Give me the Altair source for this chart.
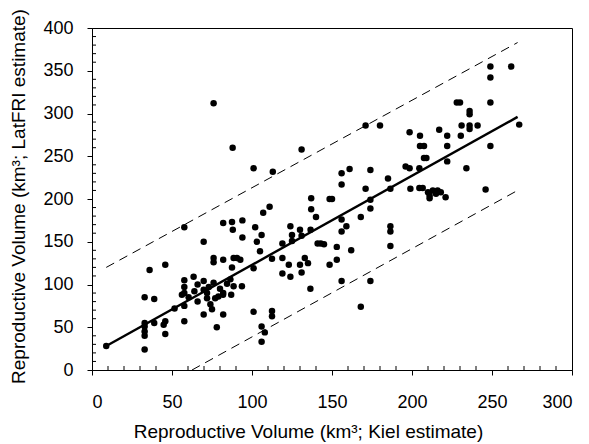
import altair as alt
import pandas as pd

# Scatter data (Kiel estimate vs LatFRI estimate, km^3)
kiel = [8.9, 32.9, 32.9, 32.9, 32.9, 32.9, 32.9, 36, 38.9, 38.9, 45.8, 45.8, 44.8, 45.8, 51.6,
        57.7, 57.7, 57.7, 57.7, 56.2, 57.7, 57.7, 63.5, 60.4, 69.8, 69.8, 69.8, 69.8, 71.9, 71.9,
        74, 76, 76, 76, 75, 77, 78, 76, 82, 82, 82, 82, 84.4, 87.5, 88, 88.5, 90.6, 92.7, 87.5,
        86.5, 88.5, 93.7, 94, 94, 87.9, 87, 81.9, 101, 101, 102, 103, 105, 107, 111, 106, 106,
        108, 106, 112.5, 112.5, 112.5, 101, 113, 119, 119, 119, 124, 123, 124, 125, 125, 130,
        131, 130, 133, 135, 136.5, 137, 137, 140, 141, 143, 145, 148.5, 148.5, 131, 131, 136.6,
        150, 153, 153, 156, 161, 156, 156, 159, 156, 156, 162, 168, 168, 171, 180, 174, 171,
        174, 174, 174, 185, 186.5, 186.5, 186.5, 186.5, 196, 198.5, 198.5, 205, 205, 207.5, 209,
        207.5, 204.6, 199, 204.6, 206.7, 210, 213, 216, 218, 211, 215, 211, 221, 217, 222, 222,
        222, 228, 230, 236, 236, 231, 236, 236, 241, 230.5, 234, 246, 249, 262, 249, 249, 249,
        267, 66, 64, 66, 79, 80, 73]
latfri = [28, 24, 40, 45, 51, 55, 85, 117, 83, 55, 123, 57, 53, 42, 72,
          167, 105, 97, 90, 88, 75, 57, 109, 85, 150, 104, 94, 65, 90, 84,
          77, 131, 126, 102, 71, 84, 50, 312, 172, 129, 90, 65, 101, 173, 164, 131, 131, 129, 120,
          106, 98, 98, 175, 155, 260, 88, 88, 119, 68, 167, 150, 139, 184, 191, 158, 51,
          44, 33, 130, 69, 63, 236, 232, 148, 131, 113, 109, 123, 168, 158, 151, 164,
          157, 123, 131, 125, 95, 201, 188, 179, 148, 148, 147, 123, 200, 258, 114, 164,
          200, 144, 129, 230, 235, 217, 176, 168, 162, 104, 140, 179, 74, 286, 286, 234, 212,
          199, 189, 104, 224, 212, 168, 162, 145, 238, 236, 278, 274, 262, 262, 248,
          248, 236, 212, 213, 213, 208, 210, 210, 208, 204, 206, 201, 202, 281, 274, 262,
          244, 313, 313, 303, 299, 286, 286, 282, 286, 274, 236, 211, 355, 355, 342, 313, 262,
          287, 100, 92, 80, 86, 95, 97]

# Regression line and prediction bounds (end points)
fit_x = [8.9, 266]
fit_y = [28, 296]
upper_x = [8.9, 266]
upper_y = [120, 383]
lower_x = [62.5, 265]
lower_y = [0, 209]

x_major = [0, 50, 100, 150, 200, 250, 300]
y_major = [0, 50, 100, 150, 200, 250, 300, 350, 400]
x_minor = [v for v in range(0, 301, 10) if v % 50]
y_minor = [v for v in range(0, 401, 10) if v % 50]

W, H = 480, 342
FONT = "Liberation Sans"

xs = alt.Scale(domain=[0, 300], nice=False, zero=False)
ys = alt.Scale(domain=[0, 400], nice=False, zero=False)

pts = pd.DataFrame({"kiel": kiel, "latfri": latfri})

points = alt.Chart(pts).mark_circle(size=42, color="black", opacity=1).encode(
    x=alt.X("kiel:Q", scale=xs, axis=alt.Axis(
        values=x_major, title="Reproductive Volume (km³; Kiel estimate)",
        grid=False, tickSize=5, labelPadding=18, titlePadding=11,
        titleX=216, titleFontSize=19)),
    y=alt.Y("latfri:Q", scale=ys, axis=alt.Axis(
        values=y_major, title="Reproductive Volume (km³; LatFRI estimate)",
        grid=False, tickSize=5, labelPadding=14, titlePadding=14,
        titleY=168, titleFontSize=19)),
)

fit = alt.Chart(pd.DataFrame({"x": fit_x, "y": fit_y})).mark_line(
    color="black", strokeWidth=2.4).encode(
    x=alt.X("x:Q", scale=xs), y=alt.Y("y:Q", scale=ys))

upper = alt.Chart(pd.DataFrame({"x": upper_x, "y": upper_y})).mark_line(
    color="black", strokeWidth=1, strokeDash=[9, 6]).encode(
    x=alt.X("x:Q", scale=xs), y=alt.Y("y:Q", scale=ys))

lower = alt.Chart(pd.DataFrame({"x": lower_x, "y": lower_y})).mark_line(
    color="black", strokeWidth=1, strokeDash=[9, 6]).encode(
    x=alt.X("x:Q", scale=xs), y=alt.Y("y:Q", scale=ys))

xminor = alt.Chart(pd.DataFrame({"v": x_minor})).mark_rule(color="black", strokeWidth=1).encode(
    x=alt.X("v:Q", scale=xs), y=alt.value(H), y2=alt.value(H - 4))

yminor = alt.Chart(pd.DataFrame({"v": y_minor})).mark_rule(color="black", strokeWidth=1).encode(
    y=alt.Y("v:Q", scale=ys), x=alt.value(0), x2=alt.value(4))

chart = alt.layer(upper, lower, fit, points, xminor, yminor).properties(
    width=W, height=H,
    autosize=alt.AutoSizeParams(type="none"),
    padding={"left": 92, "top": 28, "right": 17, "bottom": 74},
    background="white",
).configure_view(
    stroke="black", strokeWidth=1
).configure_axis(
    domainColor="black", tickColor="black", labelColor="black", titleColor="black",
    labelFont=FONT, titleFont=FONT, labelFontSize=18,
    titleFontWeight="normal",
)

chart.save("out.html", embed_options={"renderer": "svg", "actions": False})
